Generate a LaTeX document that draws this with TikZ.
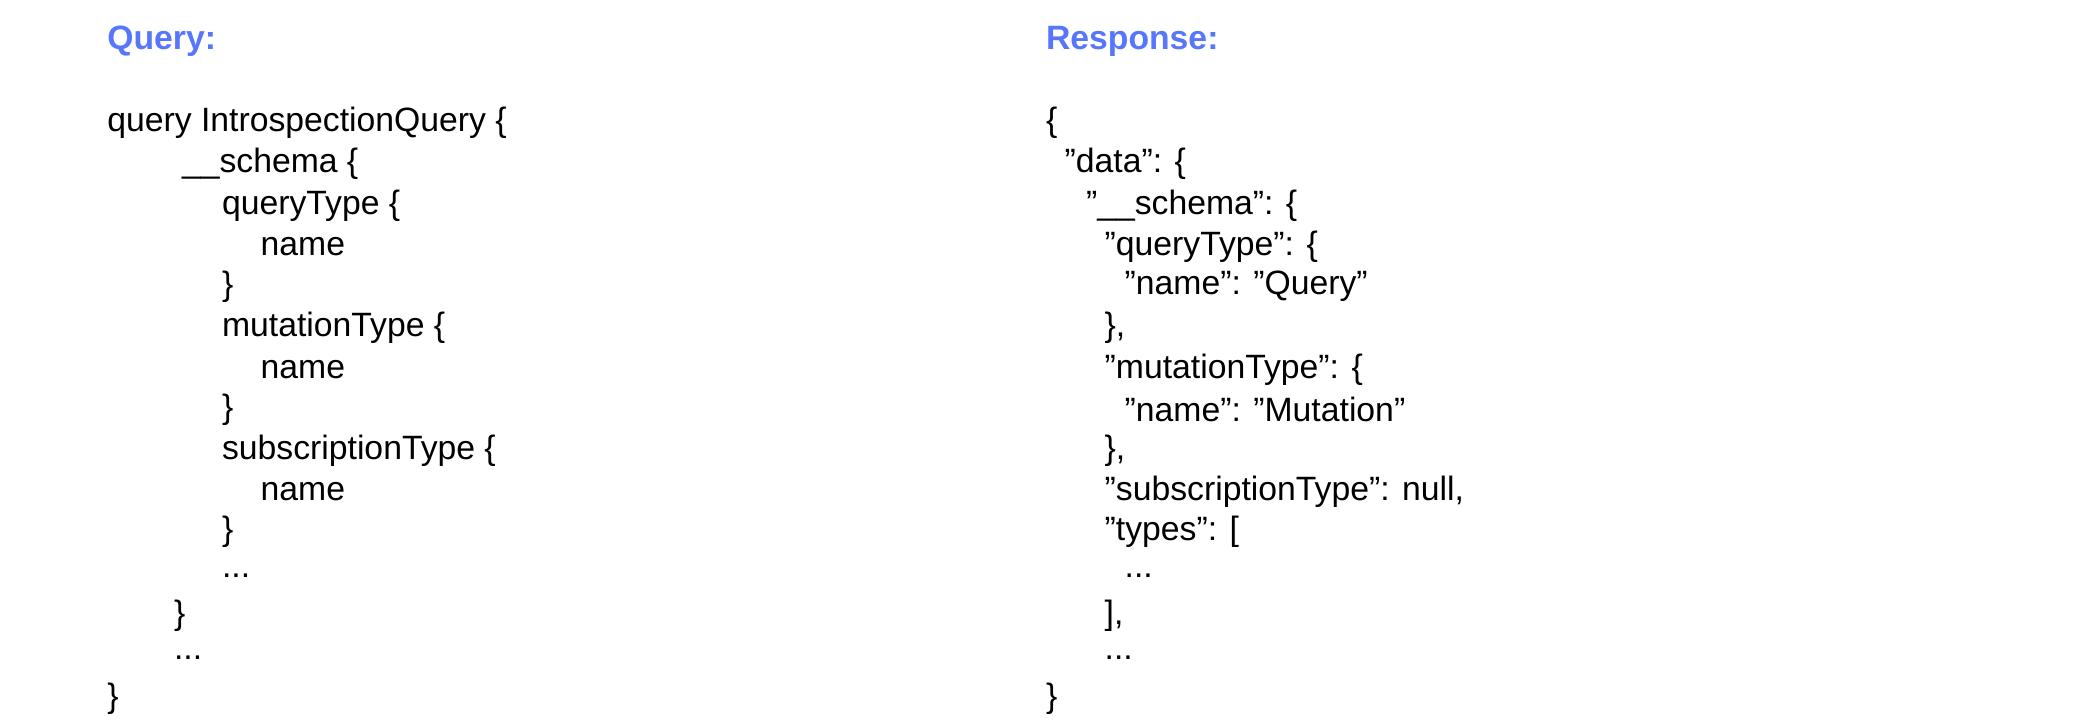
\documentclass[tikz,border=0pt]{standalone}
\usepackage{fontspec}
\setmainfont{Liberation Sans}
\usetikzlibrary{positioning}
\definecolor{headblue}{RGB}{88,118,250}
\tikzset{
    code/.style = {anchor=west, inner sep=0pt, font=\fontsize{9.6}{11}\selectfont},
    head/.style = {anchor=west, inner sep=0pt, text=headblue, font=\fontsize{9.6}{11}\selectfont\bfseries},
}
\begin{document}
\begin{tikzpicture}[x=0.013333cm, y=-0.013333cm]
    \useasboundingbox (0,0) rectangle (1560,540);
    % headings
    \node[head] (qh) at (80,31) {Query:};
    \node[head] (rh) at (784,31) {Response:};
    % query
    \foreach \x/\y/\t [count=\i] in {
        80/92/{query IntrospectionQuery \{},
        136/123/{\_\_schema \{},
        166/154/{queryType \{},
        195/185/{name},
        166/215/{\}},
        166/246/{mutationType \{},
        195/277/{name},
        166/307/{\}},
        166/338/{subscriptionType \{},
        195/369/{name},
        166/399/{\}},
        166/432/{...},
        130/462/{\}},
        130/493/{...},
        80/524/{\}}}
        \node[code] (q\i) at (\x,\y) {\t};
    % response
    \foreach \x/\y/\t [count=\i] in {
        784/92/{\{},
        798/123/{"data": \{},
        814/154/{"\_\_schema": \{},
        828/185/{"queryType": \{},
        843/215/{"name": "Query"},
        828/246/{\},},
        828/277/{"mutationType": \{},
        843/307/{"name": "Mutation"},
        828/338/{\},},
        828/369/{"subscriptionType": null,},
        828/399/{"types": [},
        843/432/{...},
        828/462/{],},
        828/493/{...},
        784/524/{\}}}
        \node[code] (r\i) at (\x,\y) {\t};
\end{tikzpicture}
\end{document}
